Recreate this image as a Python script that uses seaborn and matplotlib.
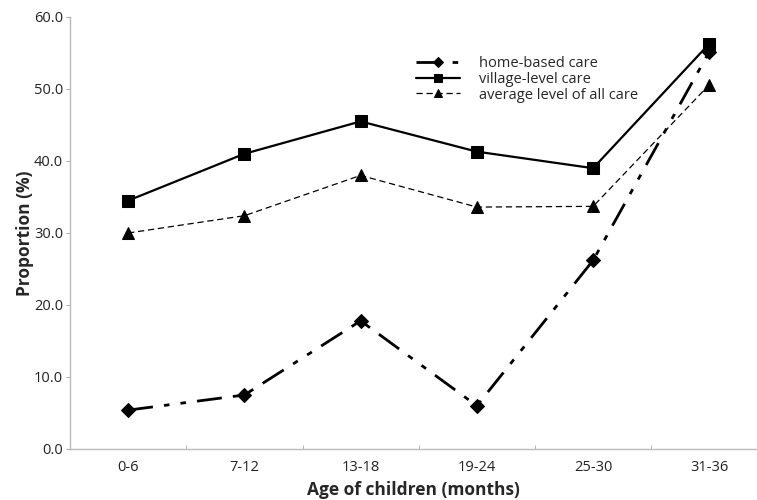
import numpy as np
import pandas as pd
import matplotlib
matplotlib.use('Agg')
from matplotlib import pyplot as plt
from matplotlib.ticker import FixedLocator
import seaborn as sns

# Data
age_groups = ['0-6', '7-12', '13-18', '19-24', '25-30', '31-36']
home_based = [5.4, 7.5, 17.8, 6.0, 26.2, 55.2]
village_level = [34.5, 41.0, 45.5, 41.3, 39.0, 56.3]
average_all = [30.0, 32.4, 38.0, 33.6, 33.7, 50.6]

sns.set_style('white')
plt.rcParams['font.family'] = ['Open Sans', 'DejaVu Sans']

fig = plt.figure(figsize=(7.57, 5.0), dpi=100)
ax = fig.add_axes([0.0925, 0.102, 0.9075, 0.864])

x = np.arange(len(age_groups))

sns.lineplot(x=x, y=home_based, ax=ax, color='black', marker='D', markersize=7,
             linewidth=2.0, label='home-based care', markeredgecolor='black')
sns.lineplot(x=x, y=village_level, ax=ax, color='black', marker='s', markersize=8,
             linewidth=1.6, label='village-level care', markeredgecolor='black')
sns.lineplot(x=x, y=average_all, ax=ax, color='black', marker='^', markersize=8.5,
             linewidth=0.9, label='average level of all care', markeredgecolor='black')

lines = ax.get_lines()
lines[0].set_dashes([9, 4, 2, 4, 2, 4])
lines[2].set_dashes([5, 3])

ax.set_xlim(-0.5, 5.41)
ax.set_ylim(0, 60)
ax.set_xticks(x)
ax.set_xticklabels(age_groups)
ax.xaxis.set_minor_locator(FixedLocator(np.arange(0.5, 5.0, 1.0)))
ax.tick_params(axis='x', which='major', length=0, labelsize=10.5, pad=8, colors='#222222')
ax.tick_params(axis='x', which='minor', length=3, direction='in', color='#aaaaaa', bottom=True)
ax.set_yticks(np.arange(0, 61, 10))
ax.set_yticklabels([f'{v:.1f}' for v in np.arange(0, 61, 10)])
ax.tick_params(axis='y', length=3, direction='out', color='#aaaaaa', labelsize=10.5,
               colors='#222222', left=True, pad=2)

for side in ['top', 'right']:
    ax.spines[side].set_visible(False)
for side in ['left', 'bottom']:
    ax.spines[side].set_color('#bbbbbb')
    ax.spines[side].set_linewidth(1.0)

ax.set_xlabel('Age of children (months)', fontsize=12.5, fontweight='bold', labelpad=4)
ax.set_ylabel('Proportion (%)', fontsize=12.5, fontweight='bold', labelpad=0)

leg = ax.legend(loc='upper left', bbox_to_anchor=(0.485, 0.94), frameon=False,
                fontsize=10.5, handlelength=3.0, labelspacing=0.05, handletextpad=1.3,
                markerscale=0.75)

fig.savefig('out.png', dpi=100)
